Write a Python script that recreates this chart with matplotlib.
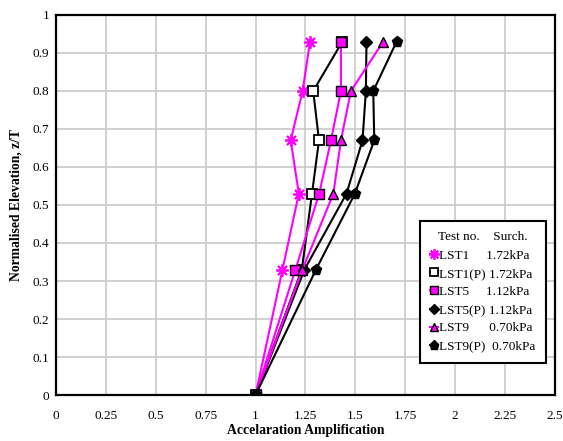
import numpy as np
import matplotlib.pyplot as plt
from matplotlib.ticker import FormatStrFormatter, MultipleLocator

plt.rcParams['font.family'] = ['Liberation Serif', 'DejaVu Serif']

# elevation levels (z/T), shared by all tests
elev = [0, 0.33, 0.53, 0.67, 0.80, 0.93]

lst1 = [1, 1.135, 1.217, 1.176, 1.236, 1.273]
lst1p = [1, 1.232, 1.283, 1.318, 1.289, 1.435]
lst5 = [1, 1.200, 1.319, 1.378, 1.428, 1.428]
lst5p = [1, 1.245, 1.456, 1.536, 1.553, 1.556]
lst9 = [1, 1.235, 1.390, 1.428, 1.478, 1.640]
lst9p = [1, 1.303, 1.498, 1.595, 1.590, 1.707]

labels = ['LST1     1.72kPa', 'LST1(P) 1.72kPa', 'LST5     1.12kPa',
          'LST5(P) 1.12kPa', 'LST9      0.70kPa', 'LST9(P)  0.70kPa']

mag = '#FF00FF'

fig = plt.figure(figsize=(5.63, 4.41), dpi=100)
ax = fig.add_axes([0.0995, 0.1043, 0.886, 0.8617])

ax.plot(lst1, elev, color=mag, lw=1.5, marker=(8, 2, 0), ms=9, mec=mag, mew=1.3, label=labels[0])
ax.plot(lst1p, elev, color='black', lw=1.5, marker='s', ms=7, mfc='white', mec='black', mew=1.3, label=labels[1])
ax.plot(lst5, elev, color=mag, lw=1.5, marker='s', ms=7, mfc=mag, mec='black', mew=1.0, label=labels[2])
ax.plot(lst5p, elev, color='black', lw=1.5, marker='D', ms=6, mfc='black', mec='black', label=labels[3])
ax.plot(lst9, elev, color=mag, lw=1.5, marker='^', ms=7, mfc=mag, mec='black', mew=1.0, label=labels[4])
ax.plot(lst9p, elev, color='black', lw=1.5, marker='p', ms=8, mfc='black', mec='black', label=labels[5])

ax.set_xlim(0, 2.5)
ax.set_ylim(0, 1)
ax.xaxis.set_major_locator(MultipleLocator(0.25))
ax.yaxis.set_major_locator(MultipleLocator(0.1))
ax.xaxis.set_major_formatter(FormatStrFormatter('%g'))
ax.yaxis.set_major_formatter(FormatStrFormatter('%g'))
ax.grid(True, color='#C8C8C8', lw=1.2)
ax.set_axisbelow(True)
ax.tick_params(length=0, labelsize=9.5)
ax.tick_params(axis='x', pad=11)
ax.tick_params(axis='y', pad=5)
for s in ax.spines.values():
    s.set_linewidth(1.6)

ax.set_xlabel('Accelaration Amplification', fontsize=9.8, fontweight='bold', labelpad=1.5)
ax.set_ylabel('Normalised Elevation, z/T', fontsize=9.8, fontweight='bold', labelpad=7)

leg = ax.legend(loc='lower left', bbox_to_anchor=(0.729, 0.084), title='Test no.    Surch.',
                fontsize=9.5, title_fontsize=9.5, fancybox=False, framealpha=1,
                edgecolor='black', handlelength=0.6, handletextpad=0.1,
                borderpad=0.8, labelspacing=0.45, borderaxespad=0, markerscale=0.85)
leg.get_frame().set_linewidth(1.5)

fig.savefig('out.png', dpi=100)
